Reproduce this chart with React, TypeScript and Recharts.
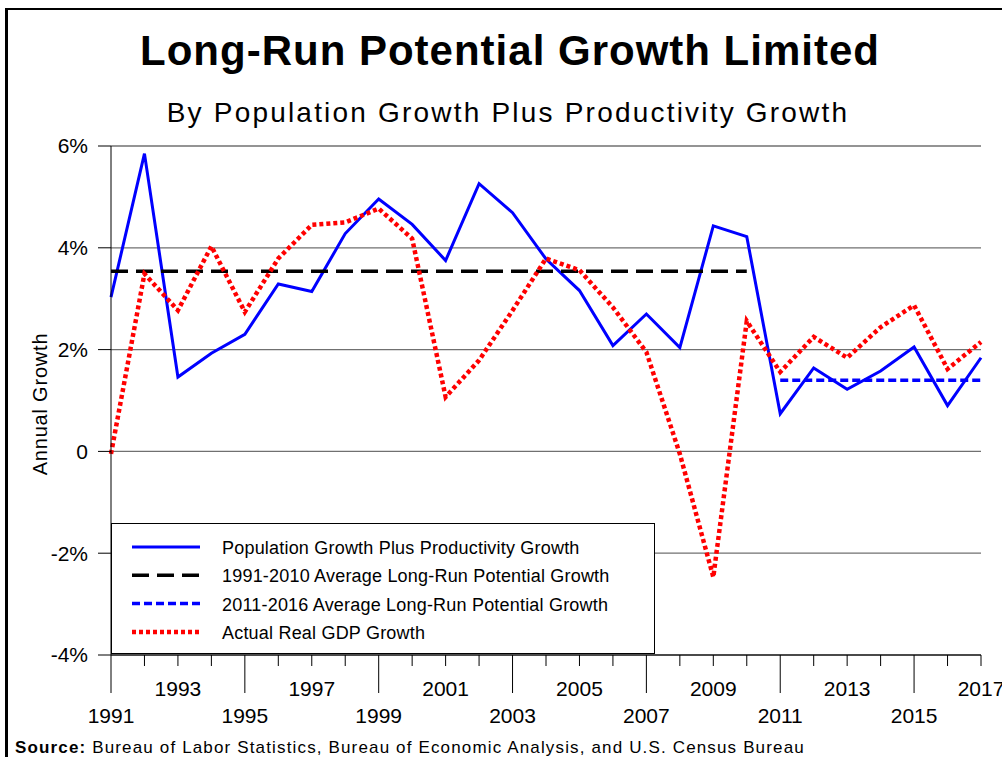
import { LineChart, Line, XAxis, YAxis, CartesianGrid, Legend } from 'recharts';

const YEARS = [
  1991, 1992, 1993, 1994, 1995, 1996, 1997, 1998, 1999, 2000, 2001, 2002, 2003, 2004,
  2005, 2006, 2007, 2008, 2009, 2010, 2011, 2012, 2013, 2014, 2015, 2016, 2017,
];
const POP_PLUS_PRODUCTIVITY = [
  3.03, 5.85, 1.46, 1.93, 2.3, 3.29, 3.14, 4.28, 4.96, 4.46, 3.75, 5.26, 4.69, 3.78,
  3.16, 2.08, 2.7, 2.04, 4.43, 4.22, 0.74, 1.64, 1.22, 1.58, 2.05, 0.9, 1.84,
];
const REAL_GDP = [
  -0.05, 3.49, 2.77, 4.03, 2.74, 3.79, 4.45, 4.5, 4.77, 4.18, 1.07, 1.79, 2.77, 3.79,
  3.56, 2.83, 1.95, -0.05, -2.47, 2.56, 1.56, 2.25, 1.84, 2.44, 2.87, 1.62, 2.15,
];
const AVG_1991_2010 = 3.54;
const AVG_2011_2016 = 1.4;

const Y_TICKS = [-4, -2, 0, 2, 4, 6];
const UPPER_LABEL_YEARS = [1993, 1997, 2001, 2005, 2009, 2013, 2017];
const LOWER_LABEL_YEARS = [1991, 1995, 1999, 2003, 2007, 2011, 2015];

const FONT = '"Liberation Sans", Arial, Helvetica, sans-serif';

const data = YEARS.map((year, i) => ({
  year,
  potential: POP_PLUS_PRODUCTIVITY[i],
  avgEarly: year <= 2010 ? AVG_1991_2010 : null,
  avgLate: year >= 2011 ? AVG_2011_2016 : null,
  gdp: REAL_GDP[i],
}));

const SERIES = [
  { key: 'potential', name: 'Population Growth Plus Productivity Growth', color: '#0000FF', width: 3, dash: undefined },
  { key: 'avgEarly', name: '1991-2010 Average Long-Run Potential Growth', color: '#000000', width: 3.5, dash: '17 8' },
  { key: 'avgLate', name: '2011-2016 Average Long-Run Potential Growth', color: '#0000FF', width: 3.5, dash: '8 4' },
  { key: 'gdp', name: 'Actual Real GDP Growth', color: '#FF0000', width: 4.5, dash: '4 3' },
];

function YearTick({ x, y, payload }: any) {
  const year = payload.value;
  const lower = LOWER_LABEL_YEARS.includes(year);
  const upper = UPPER_LABEL_YEARS.includes(year);
  return (
    <g>
      <line x1={x} x2={x} y1={y} y2={y + (lower ? 38 : 11)} stroke="#000" strokeWidth={1} />
      {(upper || lower) && (
        <text x={x} y={y + (lower ? 68 : 41)} textAnchor="middle" fontSize={21} fill="#000" fontFamily={FONT}>
          {year}
        </text>
      )}
    </g>
  );
}

// legend rows keep the series order, whatever order recharts hands them over in
function LegendBox({ payload }: any) {
  const rows = SERIES.map((s) => {
    const entry = (payload || []).find((p: any) => p.dataKey === s.key);
    return { ...s, label: entry ? entry.value : s.name };
  });
  return (
    <svg width={542} height={129} style={{ display: 'block' }}>
      {rows.map((s, i) => {
        const cy = 23 + i * 28.3;
        return (
          <g key={s.key}>
            <line x1={20} x2={88} y1={cy} y2={cy} stroke={s.color} strokeWidth={s.width} strokeDasharray={s.dash} />
            <text x={110} y={cy + 7} fontSize={18} letterSpacing={0.2} fill="#000" fontFamily={FONT}>
              {s.label}
            </text>
          </g>
        );
      })}
    </svg>
  );
}

export default function App() {
  return (
    <div style={{ position: 'absolute', left: 0, top: 0, width: 1002, height: 757, overflow: 'hidden', background: '#fff' }}>
      <div style={{ position: 'absolute', left: 5, top: 8, width: 1100, height: 900, borderLeft: '3px solid #000', borderTop: '2px solid #000' }} />
      <div style={{ position: 'absolute', left: 0, top: 0 }}>
        <LineChart width={1002} height={757} data={data} margin={{ top: 146, right: 21, bottom: 0, left: 0 }}>
          <CartesianGrid vertical={false} stroke="#707070" strokeWidth={1.3} />
          <XAxis
            dataKey="year"
            type="number"
            domain={[1991, 2017]}
            ticks={YEARS}
            interval={0}
            height={102}
            tickSize={0}
            tickMargin={0}
            tickLine={false}
            tick={<YearTick />}
            stroke="#000"
          />
          <YAxis
            domain={[-4, 6]}
            ticks={Y_TICKS}
            interval={0}
            width={111}
            tickSize={13}
            tickMargin={10}
            tickFormatter={(v: number) => (v === 0 ? '0' : `${v}%`)}
            tick={{ fontSize: 21, fill: '#000', fontFamily: FONT }}
            stroke="#000"
          />
          <Legend
            layout="vertical"
            verticalAlign="middle"
            align="center"
            content={<LegendBox />}
            wrapperStyle={{
              left: 111,
              top: 523,
              width: 544,
              height: 131,
              border: '1px solid #000',
              background: '#fff',
              boxSizing: 'border-box',
            }}
          />
          {SERIES.map((s) => (
            <Line
              key={s.key}
              dataKey={s.key}
              name={s.name}
              type="linear"
              stroke={s.color}
              strokeWidth={s.width}
              strokeDasharray={s.dash}
              dot={false}
              activeDot={false}
              isAnimationActive={false}
            />
          ))}
        </LineChart>
      </div>
      <svg width={1002} height={757} style={{ position: 'absolute', left: 0, top: 0, pointerEvents: 'none' }}>
        <text x={510} y={65} textAnchor="middle" fontSize={42} fontWeight="bold" letterSpacing={1} fontFamily={FONT} fill="#000">
          Long-Run Potential Growth Limited
        </text>
        <text x={508} y={122} textAnchor="middle" fontSize={28} letterSpacing={2.2} fontFamily={FONT} fill="#000">
          By Population Growth Plus Productivity Growth
        </text>
        <text transform="translate(47,404) rotate(-90)" textAnchor="middle" fontSize={20} letterSpacing={0.8} fontFamily={FONT} fill="#000">
          Annual Growth
        </text>
        <text x={15} y={753} fontSize={17} letterSpacing={1.15} fontFamily={FONT} fill="#000">
          <tspan fontWeight="bold">Source:</tspan> Bureau of Labor Statistics, Bureau of Economic Analysis, and U.S. Census Bureau
        </text>
      </svg>
    </div>
  );
}
